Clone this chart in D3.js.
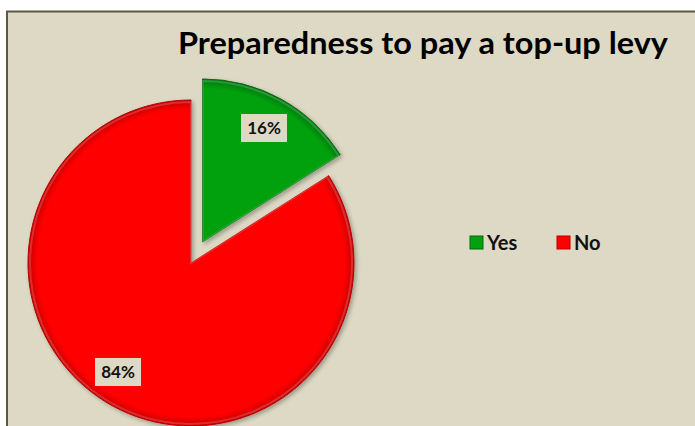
<!DOCTYPE html>
<html>
<head>
<meta charset="utf-8">
<script src="https://cdn.jsdelivr.net/npm/d3@7"></script>
<style>
  html, body { margin: 0; padding: 0; background: #ffffff; }
  svg { display: block; }
</style>
</head>
<body>
<svg id="chart" width="695" height="426"></svg>
<script>
// Survey answers and their shares (percent)
const categories = ["Yes", "No"];
const shares = [16, 84];
const labels = ["16%", "84%"];
const colors = ["#02A10F", "#FF0000"];
const edgeColors = ["#016b0a", "#b80000"];
const title = "Preparedness to pay a top-up levy";

const svg = d3.select("#chart");
const W = 695, H = 426;
const bg = "#DDD9C4";

// Chart area frame
svg.append("rect")
  .attr("x", 7).attr("y", 11.5)
  .attr("width", W + 10).attr("height", H + 10)
  .attr("fill", bg)
  .attr("stroke", "#5b5a3e").attr("stroke-width", 2);

const defs = svg.append("defs");
colors.forEach((c, i) => {
  const g = defs.append("radialGradient")
    .attr("id", "grad" + i)
    .attr("gradientUnits", "userSpaceOnUse")
    .attr("cx", 0).attr("cy", 0).attr("r", 165);
  g.append("stop").attr("offset", "0%").attr("stop-color", c);
  g.append("stop").attr("offset", "93%").attr("stop-color", c);
  g.append("stop").attr("offset", "100%").attr("stop-color", edgeColors[i]);
});
const shadow = defs.append("filter").attr("id", "shadow")
  .attr("x", "-20%").attr("y", "-20%").attr("width", "140%").attr("height", "140%");
shadow.append("feDropShadow").attr("dx", 2).attr("dy", 2).attr("stdDeviation", 2)
  .attr("flood-color", "#000").attr("flood-opacity", 0.3);

// Title
svg.append("text")
  .attr("x", 423).attr("y", 54)
  .attr("text-anchor", "middle")
  .attr("font-family", "Lato, 'Open Sans', sans-serif")
  .attr("font-weight", "bold")
  .attr("font-size", 31)
  .attr("fill", "#000")
  .attr("textLength", 490)
  .attr("lengthAdjust", "spacingAndGlyphs")
  .text(title);

// Pie
const R = 163;
const cx = 191, cy = 263;
const explode = 24;

const pie = d3.pie().sort(null).value(d => d).startAngle(0).endAngle(2 * Math.PI);
const arcs = pie(shares);
const arc = d3.arc().innerRadius(0).outerRadius(R);
const bevel = d3.arc().innerRadius(0).outerRadius(R - 2);

const sliceG = svg.append("g").attr("transform", `translate(${cx},${cy})`);

arcs.forEach((a, i) => {
  const mid = (a.startAngle + a.endAngle) / 2;
  const off = i === 0 ? explode : 0;
  const dx = Math.sin(mid) * off, dy = -Math.cos(mid) * off;
  const g = sliceG.append("g").attr("transform", `translate(${dx},${dy})`);
  g.append("path")
    .attr("d", arc(a))
    .attr("fill", `url(#grad${i})`)
    .attr("stroke", edgeColors[i])
    .attr("stroke-width", 1)
    .attr("filter", "url(#shadow)");
  // soft highlight along the rim
  g.append("path")
    .attr("d", bevel(a))
    .attr("fill", "none")
    .attr("stroke", "#ffffff")
    .attr("stroke-opacity", 0.18)
    .attr("stroke-width", 2);
});

// Data labels
const labelPos = [[264, 128], [118, 372]];
labelPos.forEach((p, i) => {
  const g = svg.append("g").attr("transform", `translate(${p[0]},${p[1]})`);
  g.append("rect")
    .attr("x", -23).attr("y", -14).attr("width", 46).attr("height", 28)
    .attr("fill", bg);
  g.append("text")
    .attr("text-anchor", "middle").attr("dy", "0.36em")
    .attr("font-family", "Lato, 'Open Sans', sans-serif")
    .attr("font-weight", "bold").attr("font-size", 17)
    .attr("fill", "#111")
    .text(labels[i]);
});

// Legend
const legendX = [470, 557];
categories.forEach((c, i) => {
  const g = svg.append("g").attr("transform", `translate(${legendX[i]},236)`);
  g.append("rect")
    .attr("width", 13).attr("height", 13)
    .attr("fill", colors[i])
    .attr("stroke", edgeColors[i]).attr("stroke-width", 1);
  g.append("text")
    .attr("x", 17).attr("y", 6.5).attr("dy", "0.36em")
    .attr("font-family", "Lato, 'Open Sans', sans-serif")
    .attr("font-weight", "bold").attr("font-size", 20)
    .attr("fill", "#111")
    .text(c);
});
</script>
</body>
</html>
